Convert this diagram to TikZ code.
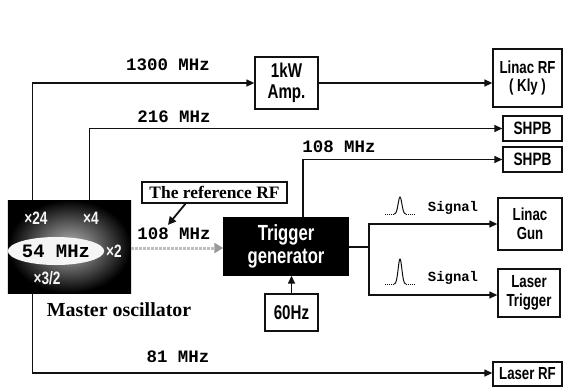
\documentclass[tikz,border=0pt]{standalone}
\usepackage{fontspec}
\setmainfont{Liberation Serif}
\setsansfont{Liberation Sans}[FakeStretch=0.76]
\setmonofont{Liberation Mono}
\usetikzlibrary{positioning,arrows.meta,shapes.geometric}
\definecolor{ink}{HTML}{111111}
\definecolor{gray500}{HTML}{9a9a9a}
\definecolor{gray300}{HTML}{bdbdbd}
\definecolor{gray200}{HTML}{b8b8b8}
\tikzset{
  every node/.style={font=\sffamily},
  unit/.style={
    rectangle, draw=ink, fill=white, line width=1.3bp,
    inner sep=0pt, align=center,
    font=\sffamily\bfseries\fontsize{17.5}{19}\selectfont
  },
  freq/.style={font=\ttfamily\bfseries\fontsize{17.5}{17.5}\selectfont, inner sep=0pt},
  arrow/.style={-{Triangle[length=8bp,width=7bp]}, line width=1.3bp, draw=ink},
  wire/.style={line width=1.3bp, draw=ink},
  mult/.style={text=white!92!gray, font=\sffamily\bfseries\fontsize{18}{18}\selectfont, inner sep=0pt},
}

\begin{document}
\begin{tikzpicture}[x=1bp, y=-1bp]
  \useasboundingbox (0,0) rectangle (566,388);

  % master oscillator
  \node[rectangle, minimum width=123bp, minimum height=93bp, inner sep=0pt,
        inner color=gray200, outer color=black] (mo) at (69.5,246.5) {};
  \node[ellipse, fill=white!92!gray, minimum width=88bp, minimum height=28bp, inner sep=0pt,
        font=\ttfamily\bfseries\fontsize{19}{19}\selectfont] (ell) at (56,251) {54 MHz};
  \node[mult] (m24) at (36,218) {×24};
  \node[mult] (m4) at (91,218) {×4};
  \node[mult] (m2) at (114,251) {×2};
  \node[mult] (m32) at (47,278) {×3/2};
  \node[font=\rmfamily\bfseries\fontsize{20}{20}\selectfont, inner sep=0pt] (mocap) at (119,310) {Master oscillator};

  % units
  \node[unit, minimum width=63bp, minimum height=52bp, font=\sffamily\bfseries\fontsize{20}{21}\selectfont] (amp) at (286.5,83) {1kW\\Amp.};
  \node[unit, minimum width=69bp, minimum height=58bp] (lrf) at (527.5,78) {Linac RF\\( Kly )};
  \node[unit, minimum width=59bp, minimum height=25bp, font=\sffamily\bfseries\fontsize{18}{18}\selectfont] (shpbA) at (532.5,128.5) {SHPB};
  \node[unit, minimum width=59bp, minimum height=25bp, font=\sffamily\bfseries\fontsize{18}{18}\selectfont] (shpbB) at (532.5,159.5) {SHPB};
  \node[unit, minimum width=64bp, minimum height=52bp] (gun) at (530,224) {Linac\\Gun};
  \node[unit, minimum width=62bp, minimum height=48bp] (ltrig) at (529,293) {Laser\\Trigger};
  \node[unit, minimum width=69bp, minimum height=24bp] (laserrf) at (527.5,374) {Laser RF};
  \node[unit, fill=black, draw=black, text=white, minimum width=124bp, minimum height=57bp,
        font=\sffamily\bfseries\fontsize{22}{23}\selectfont] (tg) at (286,246.5) {Trigger\\generator};
  \node[unit, minimum width=53bp, minimum height=37bp, font=\sffamily\bfseries\fontsize{20}{20}\selectfont] (hz) at (291.5,312.5) {60Hz};
  \node[unit, minimum width=145bp, minimum height=21bp, font=\rmfamily\bfseries\fontsize{17.5}{17.5}\selectfont] (ref) at (214.5,192.5) {The reference RF};

  % frequency labels
  \node[freq] (f1300) at (168,65) {1300 MHz};
  \node[freq] (f216) at (174,117) {216 MHz};
  \node[freq] (f108a) at (339,147) {108 MHz};
  \node[freq] (f108b) at (174,234) {108 MHz};
  \node[freq] (f81) at (178,357) {81 MHz};
  \node[font=\ttfamily\bfseries\fontsize{14}{14}\selectfont, inner sep=0pt] (sig1) at (453,208) {Signal};
  \node[font=\ttfamily\bfseries\fontsize{14}{14}\selectfont, inner sep=0pt] (sig2) at (453,278) {Signal};

  % connectors
  \draw[arrow] ([xshift=25bp]mo.north west) |- (amp.west);
  \draw[arrow] (amp.east) -- (amp.east -| lrf.west);
  \draw[arrow] ([xshift=82bp]mo.north west) |- (shpbA.west);
  \draw[arrow] ([xshift=17bp]tg.north) |- (shpbB.west);
  \draw[arrow] ([xshift=25bp]mo.south west) |- ([yshift=1bp]laserrf.west);
  \draw[line width=3bp, gray300, densely dotted, -{Triangle[length=9bp,width=10bp,color=gray500]}]
    ([yshift=-1.5bp]mo.east) -- ([yshift=-1.5bp]tg.west);
  \coordinate (br) at (369,247);
  \draw[wire] (tg.east |- br) -- (br);
  \draw[arrow] (br) |- (gun.west);
  \draw[arrow] (br) |- ([yshift=-2bp]ltrig.west);
  \draw[arrow] (hz.north) -- (hz.north |- tg.south);
  \draw[-{Triangle[length=8bp,width=8bp]}, line width=1.8bp, ink] ([xshift=-29bp]ref.south) -- ([xshift=-6bp,yshift=3bp]f108b.north);

  % pulse shapes
  \foreach \py in {214,284} {
    \draw[ink, line width=0.9bp, densely dotted] (385,\py) -- (394,\py);
    \draw[ink, line width=1bp] plot[domain=-6:6, samples=40] ({400+\x}, {\py-(\py==214?17:25)*exp(-(\x/2.6)^2)});
    \draw[ink, line width=0.9bp, densely dotted] (406,\py) -- (415,\py);
  }
\end{tikzpicture}
\end{document}
